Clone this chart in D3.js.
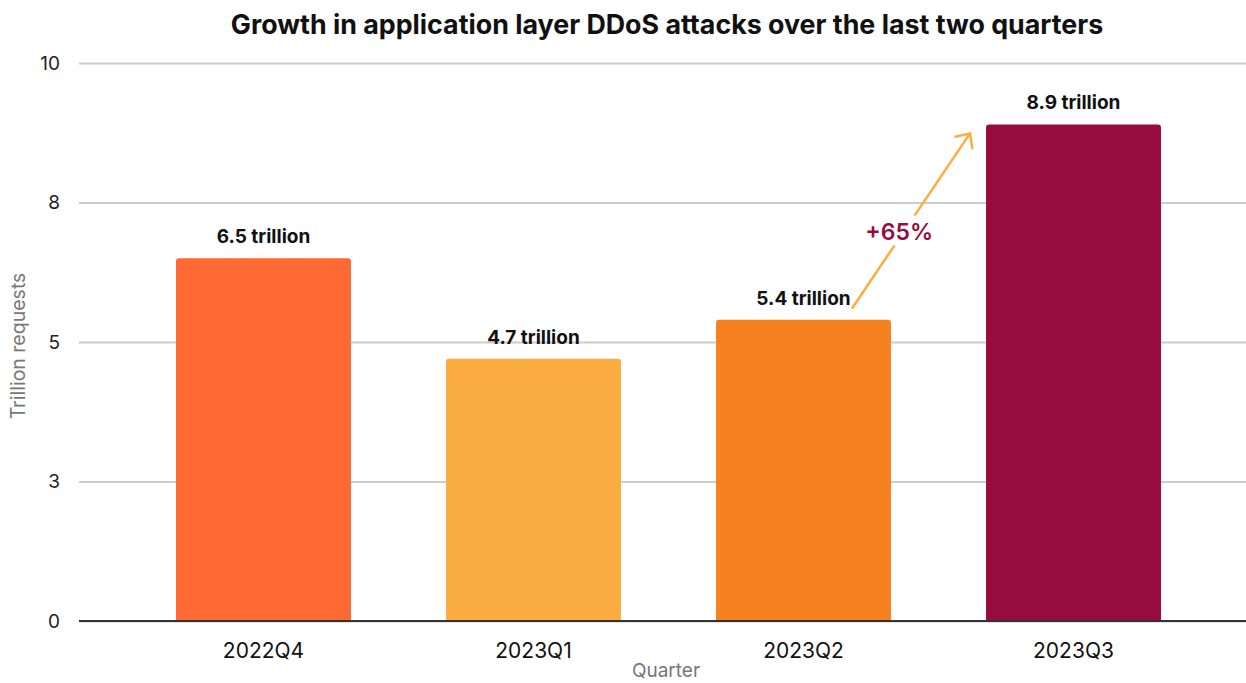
<!DOCTYPE html>
<html>
<head>
<meta charset="utf-8">
<script src="https://cdn.jsdelivr.net/npm/d3@7/dist/d3.min.js"></script>
<style>
  html, body { margin: 0; padding: 0; background: #fff; }
  svg { display: block; font-family: Inter, "Noto Sans", sans-serif; }
</style>
</head>
<body>
<svg id="chart" width="1246" height="683"></svg>
<script>
// Quarterly application-layer DDoS request volume (trillions)
const quarters = ["2022Q4", "2023Q1", "2023Q2", "2023Q3"];
const requests = [6.5, 4.7, 5.4, 8.9];
const barColors = ["#FF6933", "#FBAD41", "#F6821F", "#970C3F"];
const yTickValues = [0, 2.5, 5, 7.5, 10];
const yTickLabels = ["0", "3", "5", "8", "10"];
const growthLabel = "+65%";

const svg = d3.select("#chart");
const plot = { left: 79, right: 1246, top: 63, bottom: 621 };

const x = d3.scaleBand()
  .domain(quarters)
  .range([128.5, 1208.5])
  .paddingInner(0.352)
  .paddingOuter(0.176);

const y = d3.scaleLinear().domain([0, 10]).range([plot.bottom, plot.top]);

// Title
svg.append("text")
  .attr("x", 667).attr("y", 34)
  .attr("text-anchor", "middle")
  .attr("font-size", 26.8).attr("font-weight", 700).attr("fill", "#111")
  .text("Growth in application layer DDoS attacks over the last two quarters");

// Gridlines + y labels
const yAxis = d3.axisLeft(y)
  .tickValues(yTickValues)
  .tickFormat((d, i) => yTickLabels[i])
  .tickSize(-(plot.right - plot.left))
  .tickPadding(19);

const gy = svg.append("g")
  .attr("transform", `translate(${plot.left},0)`)
  .call(yAxis);
gy.select(".domain").remove();
gy.selectAll(".tick line").attr("stroke", "#cccccc").attr("stroke-width", 2);
gy.selectAll(".tick text")
  .attr("font-size", 19).attr("fill", "#222")
  .attr("font-family", "Inter, sans-serif");

// Bars with slightly rounded top corners
const r = 3;
function barPath(d, i) {
  const x0 = x(quarters[i]), w = x.bandwidth();
  const y0 = y(d), y1 = y(0);
  return `M${x0},${y1} L${x0},${y0 + r} Q${x0},${y0} ${x0 + r},${y0}
          L${x0 + w - r},${y0} Q${x0 + w},${y0} ${x0 + w},${y0 + r} L${x0 + w},${y1} Z`;
}
svg.append("g").selectAll("path")
  .data(requests)
  .join("path")
  .attr("d", barPath)
  .attr("fill", (d, i) => barColors[i]);

// Value labels
svg.append("g").selectAll("text")
  .data(requests)
  .join("text")
  .attr("x", (d, i) => x(quarters[i]) + x.bandwidth() / 2)
  .attr("y", d => y(d) - 15)
  .attr("text-anchor", "middle")
  .attr("font-size", 19).attr("font-weight", 700).attr("fill", "#111")
  .text(d => d.toFixed(1) + " trillion");

// Baseline
svg.append("line")
  .attr("x1", plot.left).attr("x2", plot.right)
  .attr("y1", y(0)).attr("y2", y(0))
  .attr("stroke", "#333").attr("stroke-width", 2);

// X axis labels
const xAxis = d3.axisBottom(x).tickSize(0).tickPadding(22);
const gx = svg.append("g").attr("transform", `translate(0,${y(0)})`).call(xAxis);
gx.select(".domain").remove();
gx.selectAll(".tick text")
  .attr("font-size", 21).attr("fill", "#111")
  .attr("font-family", "Inter, sans-serif");

// Axis titles
svg.append("text")
  .attr("x", 666).attr("y", 677)
  .attr("text-anchor", "middle")
  .attr("font-size", 19).attr("fill", "#777")
  .text("Quarter");

svg.append("text")
  .attr("transform", `translate(25,${(plot.top + plot.bottom) / 2 + 4}) rotate(-90)`)
  .attr("text-anchor", "middle")
  .attr("font-size", 19.5).attr("fill", "#777")
  .text("Trillion requests");

// Growth arrow from Q2 label toward Q3 bar
const q2 = quarters[2], q3 = quarters[3];
const ax0 = x(q2) + x.bandwidth() * 0.78, ay0 = y(requests[2]) - 12;
const ax1 = x(q3) - 16, ay1 = y(requests[3]) + 9;
const arrowColor = "#FBAD41";
const mx = (ax0 + ax1) / 2 - 12, my = (ay0 + ay1) / 2 + 19;

svg.append("line")
  .attr("x1", ax0).attr("y1", ay0).attr("x2", ax1).attr("y2", ay1)
  .attr("stroke", arrowColor).attr("stroke-width", 2.5).attr("stroke-linecap", "round");

// open arrowhead
const ang = Math.atan2(ay1 - ay0, ax1 - ax0);
const hl = 15, spread = Math.PI / 4.2;
svg.append("path")
  .attr("d", `M${ax1 + hl * Math.cos(ang + Math.PI - spread)},${ay1 + hl * Math.sin(ang + Math.PI - spread)}
              L${ax1},${ay1}
              L${ax1 + hl * Math.cos(ang + Math.PI + spread)},${ay1 + hl * Math.sin(ang + Math.PI + spread)}`)
  .attr("fill", "none").attr("stroke", arrowColor).attr("stroke-width", 2.5)
  .attr("stroke-linecap", "round").attr("stroke-linejoin", "round");

// white gap behind the growth label
svg.append("rect")
  .attr("x", mx - 36).attr("y", my - 24).attr("width", 72).attr("height", 30)
  .attr("fill", "#fff");
svg.append("text")
  .attr("x", mx).attr("y", my)
  .attr("text-anchor", "middle")
  .attr("font-size", 23).attr("font-weight", 600).attr("fill", "#970C3F")
  .text(growthLabel);
</script>
</body>
</html>
